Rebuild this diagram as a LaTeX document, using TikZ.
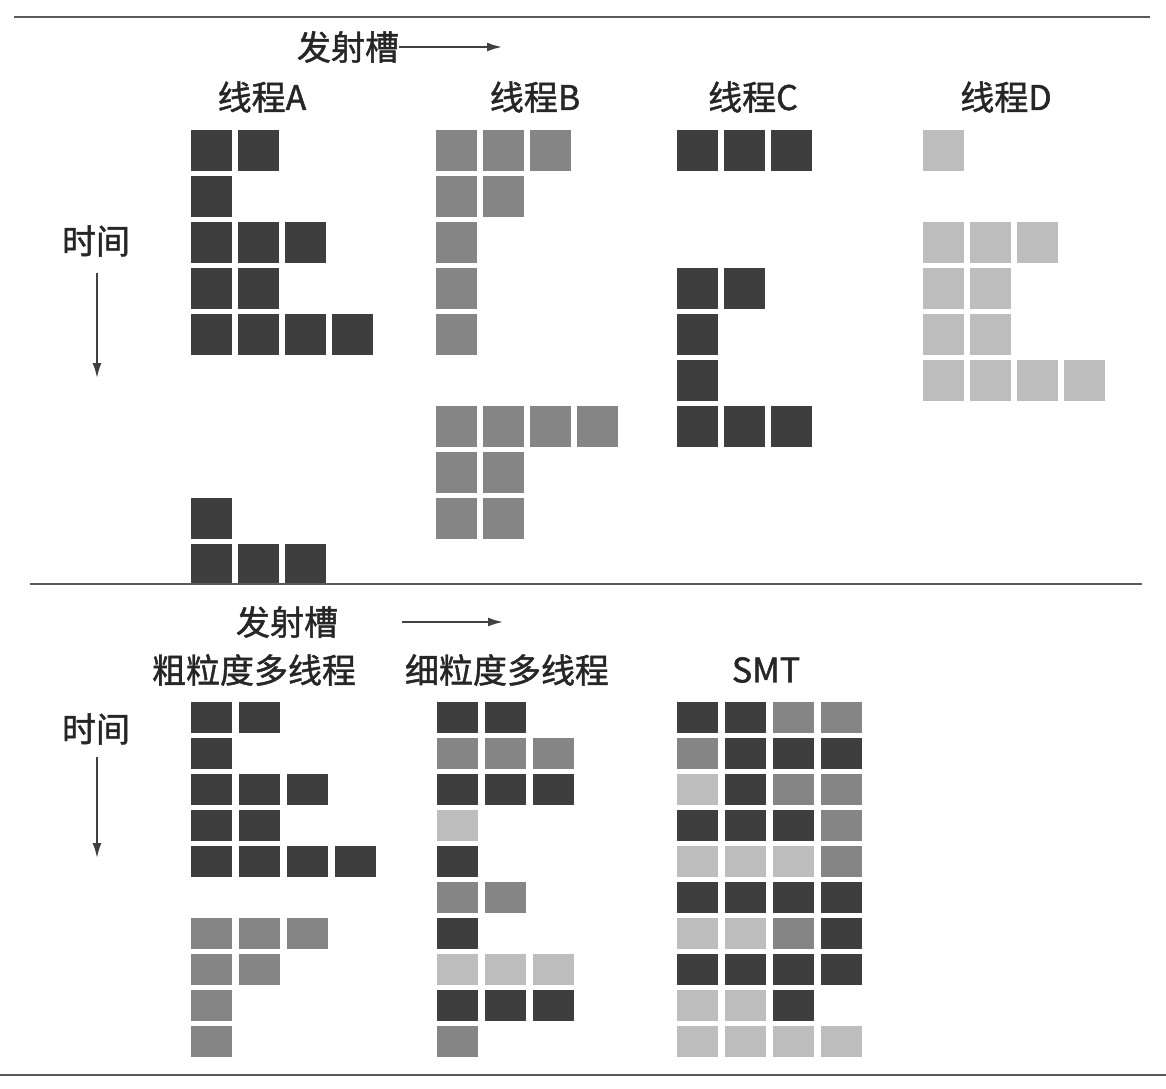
\documentclass[tikz,border=0pt]{standalone}
\usepackage{fontspec}
\setmainfont{Noto Sans CJK SC}[FakeBold=1.3,AutoFakeBold=1.3]
\usetikzlibrary{arrows.meta}

\definecolor{colA}{HTML}{3E3E3E}
\definecolor{colB}{HTML}{858585}
\definecolor{colC}{HTML}{3E3E3E}
\definecolor{colD}{HTML}{BDBDBD}
\definecolor{rulegray}{HTML}{5A5A5A}

\tikzstyle{lbl} = [text=black!85, font=\fontsize{17pt}{20pt}\selectfont\bfseries, inner sep=0pt]
\tikzstyle{slot} = [minimum width=20.5pt, minimum height=20.5pt, inner sep=0pt, outer sep=0pt]
\tikzstyle{wide} = [slot, minimum height=15.5pt]
\tikzstyle{sep} = [draw=rulegray, line width=1pt]
\tikzstyle{flow} = [draw=black!75, line width=0.9pt, -{Latex[length=7.5pt,width=4.5pt]}]

\begin{document}
\begin{tikzpicture}[x=0.5pt,y=-0.5pt]
\useasboundingbox (0,0) rectangle (1166,1088);

% upper part: four threads
\node[lbl] (slotA) at (348,47) {发射槽};
\coordinate (slotAend) at (502,47);
\draw[flow] (slotA.east) -- (slotAend);
\node[lbl] (timeA) at (96,241) {时间};
\coordinate (timeAtop) at (97,273);
\coordinate (timeAend) at (97,378);
\draw[flow] (timeAtop) -- (timeAend);

\node[lbl] (thA) at (262,97) {线程A};
\node[lbl] (thB) at (535,97) {线程B};
\node[lbl] (thC) at (753,97) {线程C};
\node[lbl] (thD) at (1006,97) {线程D};

\foreach \r/\n in {0/2,1/1,2/3,3/2,4/4,8/1,9/3}
	\foreach \c in {1,...,\n}
		\node[slot,fill=colA] (A-\r-\c) at ({211.5+47*(\c-1)},{150.5+46*\r}) {};
\foreach \r/\n in {0/3,1/2,2/1,3/1,4/1,6/4,7/2,8/2}
	\foreach \c in {1,...,\n}
		\node[slot,fill=colB] (B-\r-\c) at ({456.5+47*(\c-1)},{150.5+46*\r}) {};
\foreach \r/\n in {0/3,3/2,4/1,5/1,6/3}
	\foreach \c in {1,...,\n}
		\node[slot,fill=colC] (C-\r-\c) at ({697.5+47*(\c-1)},{150.5+46*\r}) {};
\foreach \r/\n in {0/1,2/3,3/2,4/2,5/4}
	\foreach \c in {1,...,\n}
		\node[slot,fill=colD] (D-\r-\c) at ({943.5+47*(\c-1)},{150.5+46*\r}) {};

\draw[sep] (14,17) -- (1150,17);
\draw[sep] (30,584) -- (1142,584);

% lower part: three ways to share the slots
\node[lbl] (slotB) at (287,622) {发射槽};
\coordinate (slotBstart) at (402,622);
\coordinate (slotBend) at (503,622);
\draw[flow] (slotBstart) -- (slotBend);
\node[lbl] (timeB) at (96,729) {时间};
\coordinate (timeBtop) at (97,757);
\coordinate (timeBend) at (97,858);
\draw[flow] (timeBtop) -- (timeBend);

\node[lbl] (coarse) at (254,670) {粗粒度多线程};
\node[lbl] (fine) at (507,670) {细粒度多线程};
\node[lbl] (smt) at (766,670) {SMT};

\foreach \r/\t/\n in {0/A/2,1/A/1,2/A/3,3/A/2,4/A/4,6/B/3,7/B/2,8/B/1,9/B/1}
	\foreach \c in {1,...,\n}
		\node[wide,fill=col\t] (cg-\r-\c) at ({211.5+48*(\c-1)},{717.5+36*\r}) {};
\foreach \r/\t/\n in {0/A/2,1/B/3,2/C/3,3/D/1,4/A/1,5/B/2,6/C/1,7/D/3,8/A/3,9/B/1}
	\foreach \c in {1,...,\n}
		\node[wide,fill=col\t] (fg-\r-\c) at ({457.5+48*(\c-1)},{717.5+36*\r}) {};
\foreach \r/\cells in {0/{A,A,B,B},1/{B,C,C,C},2/{D,A,B,B},3/{C,C,C,B},4/{D,D,D,B},
		5/{A,A,A,C},6/{D,D,B,C},7/{A,A,C,C},8/{D,D,C},9/{D,D,D,D}}
	\foreach \t [count=\c from 0] in \cells
		\node[wide,fill=col\t] (smt-\r-\c) at ({697.5+48*\c},{717.5+36*\r}) {};

\draw[sep] (0,1075) -- (1166,1075);
\end{tikzpicture}
\end{document}
